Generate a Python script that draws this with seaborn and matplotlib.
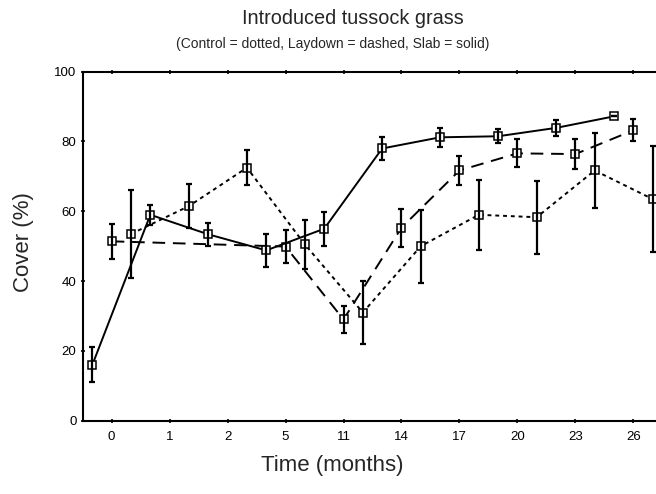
import numpy as np
import pandas as pd
import matplotlib
matplotlib.use("Agg")
import matplotlib.pyplot as plt
import seaborn as sns

# Sampling times (months) shown as evenly spaced categories
times = ["0", "1", "2", "5", "11", "14", "17", "20", "23", "26"]

# Mean cover (%) per treatment; None = not sampled
control_mean = [53.5, 61.5, 72.5, 50.5, 31.0, 50.0, 59.0, 58.3, 71.7, 63.5]
control_err = [12.7, 6.2, 5.0, 7.0, 9.0, 10.5, 10.0, 10.4, 10.8, 15.3]

laydown_mean = [51.4, None, None, 49.9, 29.0, 55.3, 71.7, 76.6, 76.4, 83.2]
laydown_err = [5.1, None, None, 4.8, 4.0, 5.4, 4.2, 4.0, 4.3, 3.2]

slab_mean = [16.0, 59.0, 53.4, 48.8, 55.0, 78.0, 81.2, 81.5, 83.9, 87.2]
slab_err = [5.0, 2.8, 3.3, 4.8, 4.8, 3.3, 2.8, 2.0, 2.2, 0.0]

treatments = ["Control", "Laydown", "Slab"]
offsets = {"Control": 1 / 3, "Laydown": 0.0, "Slab": -1 / 3}
means = {"Control": control_mean, "Laydown": laydown_mean, "Slab": slab_mean}
errs = {"Control": control_err, "Laydown": laydown_err, "Slab": slab_err}

rows = []
for t in treatments:
    for i, (m, e) in enumerate(zip(means[t], errs[t])):
        if m is None:
            continue
        rows.append({"treatment": t, "pos": i + offsets[t], "cover": m, "se": e})
df = pd.DataFrame(rows)

sns.set_style("ticks")
plt.rcParams["font.family"] = ["Liberation Sans", "DejaVu Sans"]

fig = plt.figure(figsize=(6.56, 4.94), dpi=100)
ax = fig.add_axes([82.7 / 656, 73.3 / 494, (662.3 - 82.7) / 656, (420.7 - 71.7) / 494])

lw = 1.4
sns.lineplot(
    data=df, x="pos", y="cover", style="treatment",
    style_order=treatments,
    dashes={"Control": (2, 2), "Laydown": (6.5, 4), "Slab": ""},
    markers={"Control": "s", "Laydown": "s", "Slab": "s"},
    color="black", linewidth=lw, markersize=5.4,
    markerfacecolor="white", markeredgecolor="black", markeredgewidth=1.1,
    estimator=None, errorbar=None, sort=True, legend=False, ax=ax, zorder=2,
)

ax.errorbar(df["pos"], df["cover"], yerr=df["se"], fmt="none",
            ecolor="black", elinewidth=1.6, capsize=2.2, capthick=1.6, zorder=3)

ax.set_xlim(-0.5, 9.5)
ax.set_ylim(0, 100)
ax.set_xticks(range(len(times)))
ax.set_xticklabels(times)
ax.set_yticks([0, 20, 40, 60, 80, 100])
ax.tick_params(axis="both", direction="inout", length=3, width=1.2,
               labelsize=9.5, color="black", labelcolor="black", pad=6)
ax.tick_params(axis="x", top=True)
ax.tick_params(axis="y", pad=3)
for s in ax.spines.values():
    s.set_visible(True)
    s.set_linewidth(1.5)
    s.set_color("black")
ax.set_xlabel("")
ax.set_ylabel("")

fig.text(353 / 656, 1 - 19 / 494, "Introduced tussock grass", ha="center", va="center",
         fontsize=14.3)
fig.text(333 / 656, 1 - 44 / 494, "(Control = dotted, Laydown = dashed, Slab = solid)",
         ha="center", va="center", fontsize=10)
fig.text(332 / 656, 1 - 465 / 494, "Time (months)", ha="center", va="center", fontsize=16)
fig.text(23 / 656, 1 - 242 / 494, "Cover (%)", ha="center", va="center", rotation=90,
         fontsize=16)

fig.savefig("out.png", dpi=100)
